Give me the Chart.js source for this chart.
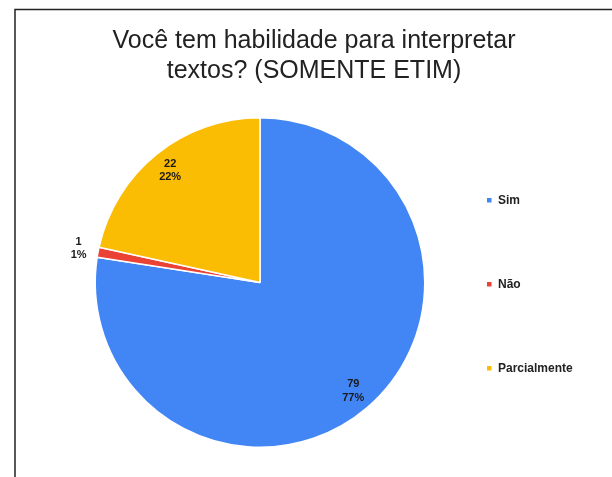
<!DOCTYPE html>
<html>
<head>
<meta charset="utf-8">
<script src="https://cdn.jsdelivr.net/npm/chart.js@4.4.1/dist/chart.umd.min.js"></script>
<style>
html,body{margin:0;padding:0;background:#fff;}
#wrap{position:relative;width:612px;height:477px;}
canvas{display:block;}
</style>
</head>
<body>
<div id="wrap"><canvas id="c" width="612" height="477"></canvas></div>
<script>
const titleLines = ["Você tem habilidade para interpretar", "textos? (SOMENTE ETIM)"];
const categories = ["Sim", "Não", "Parcialmente"];
const values = [79, 1, 22];
const percentLabels = ["77%", "1%", "22%"];
const colors = ["#4285F4", "#EA4335", "#FBBC04"];

const decor = {
  id: 'decor',
  beforeDraw(chart) {
    const ctx = chart.ctx;
    ctx.save();
    ctx.fillStyle = '#fff';
    ctx.fillRect(0, 0, chart.width, chart.height);
    ctx.strokeStyle = '#222';
    ctx.lineWidth = 1.5;
    ctx.beginPath();
    ctx.moveTo(15, chart.height);
    ctx.lineTo(15, 9.5);
    ctx.lineTo(chart.width, 9.5);
    ctx.stroke();
    // title
    ctx.fillStyle = '#222';
    ctx.font = '25px "Liberation Sans", Arial, sans-serif';
    ctx.textAlign = 'center';
    ctx.textBaseline = 'alphabetic';
    ctx.fillText(titleLines[0], 314, 48);
    ctx.fillText(titleLines[1], 314, 78);
    ctx.restore();
  },
  afterDraw(chart) {
    const ctx = chart.ctx;
    const meta = chart.getDatasetMeta(0);
    ctx.save();
    ctx.font = 'bold 11px "Liberation Sans", Arial, sans-serif';
    ctx.textAlign = 'center';
    ctx.textBaseline = 'middle';
    ctx.fillStyle = '#1a1a1a';
    const total = values.reduce((a,b)=>a+b,0);
    meta.data.forEach((arc, i) => {
      const p = arc.getProps(['x','y','startAngle','endAngle','outerRadius'], true);
      const mid = (p.startAngle + p.endAngle) / 2;
      const frac = values[i] / total;
      const r = frac < 0.05 ? p.outerRadius * 1.12 : p.outerRadius * 0.87;
      const cx = p.x + Math.cos(mid) * r;
      const cy = p.y + Math.sin(mid) * r;
      ctx.fillText(String(values[i]), cx, cy - 7);
      ctx.fillText(percentLabels[i], cx, cy + 6.5);
    });
    // legend
    ctx.font = 'bold 12px "Liberation Sans", Arial, sans-serif';
    const legY = [200, 284, 368];
    categories.forEach((c, i) => {
      ctx.fillStyle = colors[i];
      ctx.fillRect(487, legY[i] - 2, 4.5, 4.5);
      ctx.fillStyle = '#222';
      ctx.textAlign = 'left';
      ctx.fillText(c, 498, legY[i] + 0.5);
    });
    ctx.restore();
  }
};

new Chart(document.getElementById('c'), {
  type: 'pie',
  data: {
    labels: categories,
    datasets: [{
      data: values,
      backgroundColor: colors,
      borderColor: '#ffffff',
      borderWidth: 1.5
    }]
  },
  options: {
    responsive: false,
    animation: false,
    layout: { padding: { left: 94, right: 186, top: 117, bottom: 29 } },
    plugins: {
      legend: { display: false },
      title: { display: false },
      tooltip: { enabled: false }
    }
  },
  plugins: [decor]
});
</script>
</body>
</html>
